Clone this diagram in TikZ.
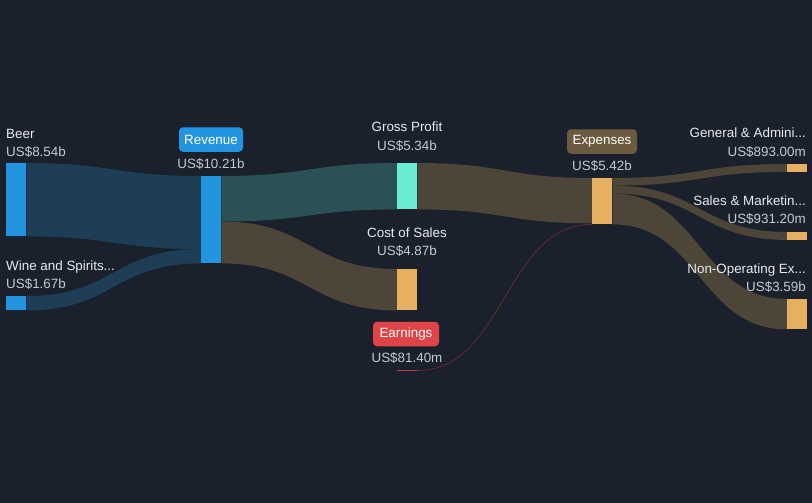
\documentclass[tikz,border=0pt]{standalone}
\usepackage{fontspec}
\setmainfont{Liberation Sans}
\usetikzlibrary{calc}
\definecolor{bgc}{HTML}{1B212C}
\definecolor{bluec}{HTML}{2394E0}
\definecolor{tealc}{HTML}{6DEAD2}
\definecolor{goldc}{HTML}{E6B061}
\definecolor{redc}{HTML}{C23A3F}
\definecolor{beerflow}{HTML}{1E3D56}
\definecolor{gpflow}{HTML}{2C5154}
\definecolor{brownflow}{HTML}{4D4538}
\definecolor{earnflow}{HTML}{6B2A33}
\definecolor{namec}{HTML}{E8EAEC}
\definecolor{valc}{HTML}{C5C9CE}
\definecolor{expbox}{HTML}{6B5A40}
\definecolor{earnbox}{HTML}{E04446}
\newcommand\flowband[5]{%
  \path let \p1=(#2), \p2=(#3), \p3=(#4), \p4=(#5), \n1={(\x1+\x3)/2} in
    [fill=#1] (\p1) .. controls (\n1,\y1) and (\n1,\y3) .. (\p3)
    -- (\p4) .. controls (\n1,\y4) and (\n1,\y2) .. (\p2) -- cycle;}
\tikzset{
  blk/.style={rectangle, draw=none, inner sep=0pt, minimum width=20pt, anchor=north west},
  nametxt/.style={text=namec, font=\fontsize{13.4}{15}\selectfont, inner sep=0pt},
  valtxt/.style={text=valc, font=\fontsize{13.4}{15}\selectfont, inner sep=0pt},
  tagbox/.style={rounded corners=4pt, text=white, font=\fontsize{13.4}{15}\selectfont, inner sep=0pt, minimum height=24.5pt},
}
\begin{document}
\begin{tikzpicture}[x=1pt,y=-1pt]
\fill[bgc] (0,0) rectangle (812,503);
\useasboundingbox (0,0) rectangle (812,503);
% nodes
\node[blk, minimum height=73pt] (beer) at (6,163) {};
\node[blk, minimum height=14pt] (wine) at (6,296) {};
\node[blk, minimum height=87pt] (rev) at (201,176) {};
\node[blk, minimum height=46pt] (gp) at (397,163) {};
\node[blk, minimum height=41pt] (cos) at (397,269) {};
\node[blk, minimum height=1.5pt] (earn) at (397,369.5) {};
\node[blk, minimum height=46pt] (exp) at (592,178) {};
\node[blk, minimum height=7.5pt] (ga) at (787,164) {};
\node[blk, minimum height=7.5pt] (sm) at (787,232) {};
\node[blk, minimum height=30pt] (no) at (787,299) {};
% flows
\flowband{beerflow}{beer.north east}{beer.south east}{rev.north west}{$(rev.north west)+(0,73)$}
\flowband{beerflow}{wine.north east}{wine.south east}{$(rev.north west)+(0,73)$}{rev.south west}
\flowband{gpflow}{rev.north east}{$(rev.north east)+(0,45.5)$}{gp.north west}{gp.south west}
\flowband{brownflow}{$(rev.north east)+(0,45.5)$}{rev.south east}{cos.north west}{cos.south west}
\flowband{brownflow}{gp.north east}{gp.south east}{exp.north west}{$(exp.north west)+(0,45.3)$}
\flowband{brownflow}{exp.north east}{$(exp.north east)+(0,7.6)$}{ga.north west}{ga.south west}
\flowband{brownflow}{$(exp.north east)+(0,7.6)$}{$(exp.north east)+(0,15.5)$}{sm.north west}{sm.south west}
\flowband{brownflow}{$(exp.north east)+(0,15.5)$}{exp.south east}{no.north west}{no.south west}
\draw[earnflow, line width=0.7pt] let \p1=(earn.east), \p2=(exp.south west), \n1={(\x1+\x2)/2} in
  (\p1) .. controls (\n1,\y1) and (\n1,\y2) .. (\p2);
% node fills on top
\fill[bluec] (beer.north west) rectangle (beer.south east);
\fill[bluec] (wine.north west) rectangle (wine.south east);
\fill[bluec] (rev.north west) rectangle (rev.south east);
\fill[tealc] (gp.north west) rectangle (gp.south east);
\fill[goldc] (cos.north west) rectangle (cos.south east);
\fill[redc] (earn.north west) rectangle (earn.south east);
\fill[goldc] (exp.north west) rectangle (exp.south east);
\fill[goldc] (ga.north west) rectangle (ga.south east);
\fill[goldc] (sm.north west) rectangle (sm.south east);
\fill[goldc] (no.north west) rectangle (no.south east);
% labels
\node[nametxt, anchor=base west] (beerN) at (6,138.5) {Beer};
\node[valtxt, anchor=base west] (beerV) at (6,157) {US\$8.54b};
\node[nametxt, anchor=base west] (wineN) at (6,270) {Wine and Spirits...};
\node[valtxt, anchor=base west] (wineV) at (6,288.5) {US\$1.67b};
\node[tagbox, fill=bluec, minimum width=64pt] (revT) at (211,139.5) {Revenue};
\node[valtxt, anchor=base] (revV) at (211,168.3) {US\$10.21b};
\node[nametxt, anchor=base] (gpN) at (407,131.7) {Gross Profit};
\node[valtxt, anchor=base] (gpV) at (407,150.7) {US\$5.34b};
\node[nametxt, anchor=base] (cosN) at (407,237.3) {Cost of Sales};
\node[valtxt, anchor=base] (cosV) at (407,255.7) {US\$4.87b};
\node[tagbox, fill=earnbox, minimum width=66pt] (earnT) at (406,334) {Earnings};
\node[valtxt, anchor=base] (earnV) at (407,362.7) {US\$81.40m};
\node[tagbox, fill=expbox, minimum width=70pt] (expT) at (602,141.5) {Expenses};
\node[valtxt, anchor=base] (expV) at (602,170.7) {US\$5.42b};
\node[nametxt, anchor=base east] (gaN) at (806,137.7) {General \& Admini...};
\node[valtxt, anchor=base east] (gaV) at (806,156.7) {US\$893.00m};
\node[nametxt, anchor=base east] (smN) at (806,205) {Sales \& Marketin...};
\node[valtxt, anchor=base east] (smV) at (806,223.3) {US\$931.20m};
\node[nametxt, anchor=base east] (noN) at (806,273.3) {Non-Operating Ex...};
\node[valtxt, anchor=base east] (noV) at (806,291) {US\$3.59b};
\end{tikzpicture}
\end{document}
